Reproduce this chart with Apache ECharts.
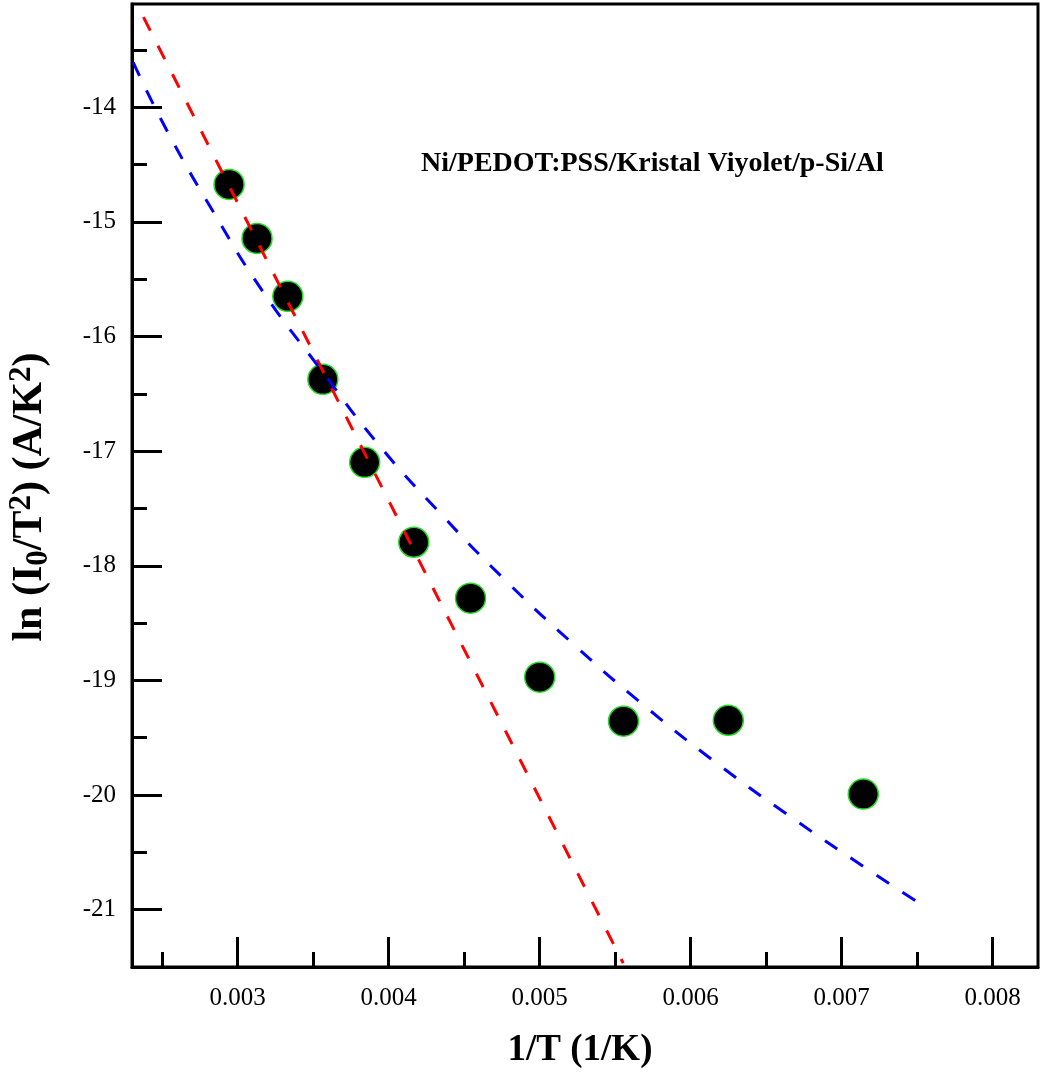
<!DOCTYPE html>
<html>
<head>
<meta charset="utf-8">
<script src="https://cdn.jsdelivr.net/npm/echarts@6/dist/echarts.min.js"></script>
<style>
html,body{margin:0;padding:0;background:#fff;}
#chart{width:1040px;height:1075px;}
</style>
</head>
<body>
<div id="chart"></div>
<script>
// Measured data: 1/T (1/K) vs ln(I0/T^2)
const dataX = [0.002943, 0.003128, 0.003332, 0.003564, 0.003841, 0.004166, 0.004542, 0.005000, 0.005555, 0.006249, 0.007143];
const dataY = [-14.674, -15.145, -15.650, -16.374, -17.098, -17.795, -18.283, -18.972, -19.356, -19.348, -19.992];

// Red dashed linear fit (endpoints)
const redX = [0.002376, 0.005553];
const redY = [-13.215, -21.466];

// Blue dashed curve fit (sampled along curve)
const blueX = [0.002308, 0.002531, 0.002839, 0.003169, 0.003544, 0.003919, 0.004337, 0.004767, 0.005218, 0.005681, 0.006161, 0.006655, 0.007157, 0.007503];
const blueY = [-13.610, -14.203, -14.915, -15.613, -16.278, -16.921, -17.536, -18.120, -18.678, -19.208, -19.711, -20.184, -20.635, -20.934];

// Tick values
const xMajorTicks = [0.003, 0.004, 0.005, 0.006, 0.007, 0.008];
const xMinorTicks = [0.0025, 0.0035, 0.0045, 0.0055, 0.0065, 0.0075];
const yMajorTicks = [-21, -20, -19, -18, -17, -16, -15, -14];
const yMinorTicks = [-21.5, -20.5, -19.5, -18.5, -17.5, -16.5, -15.5, -14.5, -13.5];

const xMin = 0.0023, xMax = 0.0083, yMin = -21.5, yMax = -13.1;

const title = 'Ni/PEDOT:PSS/Kristal Viyolet/p-Si/Al';
const xName = '1/T (1/K)';
const yNameRich = '{n|ln (I}{sub|0}{n|/T}{sup|2}{n|) (A/K}{sup|2}{n|)}';

const FONT = '"Liberation Serif", "Times New Roman", serif';

const zip = (xs, ys) => xs.map((x, i) => [x, ys[i]]);

const chart = echarts.init(document.getElementById('chart'), null, {renderer: 'canvas'});

const tickStyle = {color: '#000', width: 3};

const option = {
  animation: false,
  backgroundColor: '#fff',
  grid: {
    left: 132, top: 4, right: 2, bottom: 108,
    containLabel: false, outerBoundsMode: 'none',
    show: true, borderColor: '#000', borderWidth: 3, backgroundColor: 'transparent'
  },
  xAxis: [
    {
      type: 'value', min: xMin, max: xMax,
      splitLine: {show: false},
      axisLine: {show: true, onZero: false, lineStyle: {color: '#000', width: 3}},
      axisTick: {show: true, inside: true, length: 30, lineStyle: tickStyle, customValues: xMajorTicks},
      axisLabel: {
        show: true, customValues: xMajorTicks, margin: 19,
        fontFamily: FONT, fontSize: 25, color: '#000',
        formatter: v => Number(v).toFixed(3)
      }
    },
    {
      type: 'value', min: xMin, max: xMax, position: 'bottom',
      splitLine: {show: false},
      axisLine: {show: false, onZero: false},
      axisTick: {show: true, inside: true, length: 15, lineStyle: tickStyle, customValues: xMinorTicks},
      axisLabel: {show: false}
    }
  ],
  yAxis: [
    {
      type: 'value', min: yMin, max: yMax,
      splitLine: {show: false},
      axisLine: {show: true, onZero: false, lineStyle: {color: '#000', width: 3}},
      axisTick: {show: true, inside: true, length: 30, lineStyle: tickStyle, customValues: yMajorTicks},
      axisLabel: {
        show: true, customValues: yMajorTicks, margin: 16,
        fontFamily: FONT, fontSize: 25, color: '#000',
        formatter: v => String(Math.round(v))
      }
    },
    {
      type: 'value', min: yMin, max: yMax, position: 'left',
      splitLine: {show: false},
      axisLine: {show: false, onZero: false},
      axisTick: {show: true, inside: true, length: 15, lineStyle: tickStyle, customValues: yMinorTicks},
      axisLabel: {show: false}
    }
  ],
  graphic: [
    {
      type: 'text', left: 421, top: 150, z: 10,
      style: {text: title, font: 'bold 28px ' + FONT, fill: '#000'}
    },
    {
      type: 'text', x: 580, y: 1050, z: 10,
      style: {text: xName, font: 'bold 37px ' + FONT, fill: '#000', align: 'center', verticalAlign: 'middle'}
    },
    {
      type: 'text', x: 30, y: 497, rotation: Math.PI / 2, z: 10,
      style: {
        text: yNameRich, align: 'center', verticalAlign: 'middle', fill: '#000',
        font: 'bold 42px ' + FONT,
        rich: {
          n: {fontFamily: FONT, fontSize: 42, fontWeight: 'bold', fill: '#000', lineHeight: 48, verticalAlign: 'middle'},
          sub: {fontFamily: FONT, fontSize: 31, fontWeight: 'bold', fill: '#000', lineHeight: 30, verticalAlign: 'bottom'},
          sup: {fontFamily: FONT, fontSize: 31, fontWeight: 'bold', fill: '#000', lineHeight: 30, verticalAlign: 'top'}
        }
      }
    }
  ],
  series: [
    {
      type: 'scatter', name: 'data', xAxisIndex: 0, yAxisIndex: 0, z: 2,
      symbol: 'circle', symbolSize: 30,
      itemStyle: {color: '#000', opacity: 1, borderColor: '#22dd22', borderWidth: 1.5},
      data: zip(dataX, dataY)
    },
    {
      type: 'line', name: 'fit1', xAxisIndex: 0, yAxisIndex: 0, z: 3,
      showSymbol: false, symbol: 'none', clip: true,
      lineStyle: {color: '#ff0000', width: 3, type: [15, 17]},
      data: zip(redX, redY)
    },
    {
      type: 'line', name: 'fit2', xAxisIndex: 0, yAxisIndex: 0, z: 3,
      showSymbol: false, symbol: 'none', clip: true, smooth: true,
      lineStyle: {color: '#0000ff', width: 3, type: [15, 16]},
      data: zip(blueX, blueY)
    }
  ]
};

chart.setOption(option);
</script>
</body>
</html>
